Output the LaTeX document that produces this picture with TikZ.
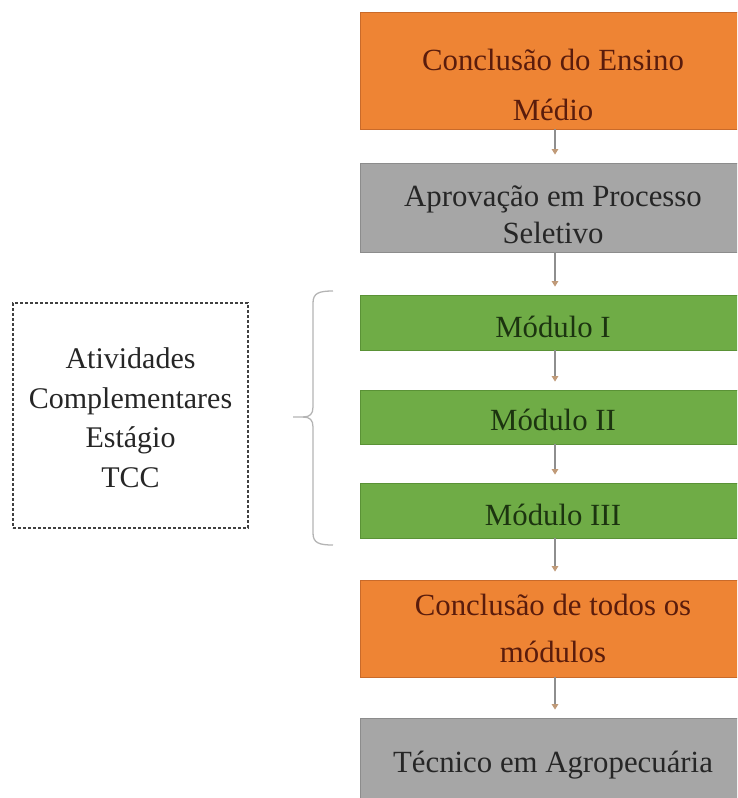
\documentclass[tikz,border=0pt]{standalone}
\usepackage{fontspec}
\setmainfont{Liberation Serif}
\usetikzlibrary{arrows.meta}
\definecolor{orng}{HTML}{EE8434}
\definecolor{orngd}{HTML}{C96A2A}
\definecolor{gry}{HTML}{A6A6A6}
\definecolor{gryd}{HTML}{8C8C8C}
\definecolor{grn}{HTML}{6FAC46}
\definecolor{grnd}{HTML}{5A9236}
\definecolor{otxt}{HTML}{5A1C0C}
\definecolor{gtxt}{HTML}{1C3410}
\definecolor{ktxt}{HTML}{262626}
\definecolor{arrc}{HTML}{8E8E8E}
\definecolor{tipc}{HTML}{C09A78}
\definecolor{bracec}{HTML}{B4B4B4}
\begin{document}
\begin{tikzpicture}[x=1pt,y=-1pt,
  box/.style={rectangle, inner sep=0pt, minimum width=386pt, line width=0.8pt},
  orbox/.style={box, fill=orng, draw=orngd},
  grbox/.style={box, fill=gry, draw=gryd},
  gnbox/.style={box, fill=grn, draw=grnd},
  lbl/.style={anchor=base, inner sep=0pt, font=\fontsize{30.8}{36}\selectfont},
  olbl/.style={lbl, text=otxt},
  glbl/.style={lbl, text=gtxt},
  klbl/.style={lbl, text=ktxt},
  slbl/.style={klbl, font=\fontsize{30}{36}\selectfont},
  arr/.style={draw=arrc, line width=1.3pt, shorten >=8pt,
    -{Triangle[width=6.5pt,length=5.5pt,color=tipc]}},
  sidebox/.style={rectangle, draw=black!75, dash pattern=on 3pt off 2pt, line width=1.1pt,
    minimum width=235pt, minimum height=225pt, inner sep=0pt},
  bracestyle/.style={draw=bracec, line width=1.3pt}
]
\useasboundingbox (0,0) rectangle (737,798);
\begin{scope}
\clip (0,0) rectangle (737,798);
% boxes
\node[orbox, minimum height=117pt] (b1) at (553,70.5) {};
\node[grbox, minimum height=89pt] (b2) at (553,207.5) {};
\node[gnbox, minimum height=55pt] (m1) at (553,322.5) {};
\node[gnbox, minimum height=54pt] (m2) at (553,417) {};
\node[gnbox, minimum height=55pt] (m3) at (553,510.5) {};
\node[orbox, minimum height=97pt] (b4) at (553,628.5) {};
\node[grbox, minimum height=90pt] (b5) at (553,763) {};
% labels
\node[olbl] (t1a) at (553,70) {Conclusão do Ensino};
\node[olbl] (t1b) at (553,120) {Médio};
\node[klbl] (t2a) at (553,206) {Aprovação em Processo};
\node[klbl] (t2b) at (553,243) {Seletivo};
\node[glbl] (tm1) at (553,337) {Módulo I};
\node[glbl] (tm2) at (553,430) {Módulo II};
\node[glbl] (tm3) at (553,525) {Módulo III};
\node[olbl] (t4a) at (553,615) {Conclusão de todos os};
\node[olbl] (t4b) at (553,662) {módulos};
\node[klbl] (t5) at (553,772) {Técnico em Agropecuária};
% arrows
\draw[arr] ([xshift=2pt]b1.south) -- ([xshift=2pt]b2.north);
\draw[arr] ([xshift=2pt]b2.south) -- ([xshift=2pt]m1.north);
\draw[arr] ([xshift=2pt]m1.south) -- ([xshift=2pt]m2.north);
\draw[arr] ([xshift=2pt]m2.south) -- ([xshift=2pt]m3.north);
\draw[arr] ([xshift=2pt]m3.south) -- ([xshift=2pt]b4.north);
\draw[arr] ([xshift=2pt]b4.south) -- ([xshift=2pt]b5.north);
% side box
\node[sidebox] (side) at (130.5,415.5) {};
\node[slbl] (s1) at (130.5,368) {Atividades};
\node[slbl] (s2) at (130.5,408) {Complementares};
\node[slbl] (s3) at (130.5,447) {Estágio};
\node[slbl] (s4) at (130.5,487) {TCC};
% brace
\draw[bracestyle] (333,291) .. controls (319,291) and (313,293) .. (313,303)
  -- (313,407) .. controls (313,414) and (310,417) .. (303,417) -- (293,417);
\draw[bracestyle] (303,417) .. controls (310,417) and (313,420) .. (313,427)
  -- (313,533) .. controls (313,543) and (319,545) .. (333,545);
\end{scope}
\end{tikzpicture}
\end{document}
